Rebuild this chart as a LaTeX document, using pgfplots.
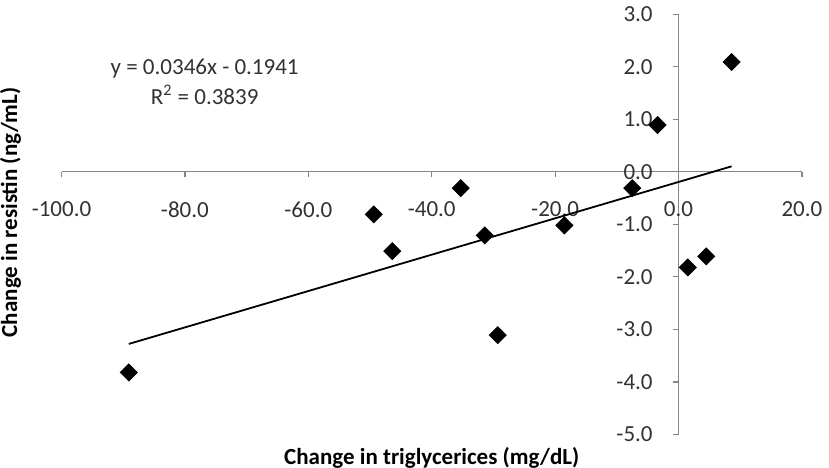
\documentclass[border=0pt]{standalone}
\usepackage{pgfplots}
\pgfplotsset{compat=1.18}
\usepackage{fontspec}
\setmainfont{Carlito}
\definecolor{axgray}{RGB}{134,134,134}
\definecolor{txt}{RGB}{50,50,50}
\begin{document}
\begin{tikzpicture}
\begin{axis}[
  scale only axis,
  width=370pt, height=210pt,
  xmin=-100, xmax=20, ymin=-5, ymax=3,
  axis lines=middle,
  axis line style={axgray, -, line width=0.6pt},
  xtick={-100,-80,...,20},
  ytick={-5,-4,...,3},
  minor tick num=0,
  hide obscured x ticks=false,
  hide obscured y ticks=false,
  x tick style={axgray, line width=0.6pt, yshift=-1.4pt},
  y tick style={axgray, line width=0.6pt, xshift=-1.4pt},
  major tick length=2.8pt,
  /pgf/number format/assume math mode=true,
  /pgf/number format/.cd, fixed, fixed zerofill, precision=1, /pgfplots/.cd,
  tick label style={font=\fontsize{11.5}{13}\selectfont, text=txt},
  xticklabel style={anchor=center, yshift=-17.5pt},
  yticklabel style={anchor=east, xshift=-8pt},
  every axis x label/.style={at={(rel axis cs:0.5,0)}, xshift=0pt, yshift=-11.5pt, anchor=center, inner sep=0pt},
  every axis y label/.style={at={(rel axis cs:0,0.5)}, xshift=-25.5pt, yshift=6pt, rotate=90, anchor=center, inner sep=0pt},
  xlabel={\bfseries\fontsize{11.5}{13}\selectfont Change in triglycerices (mg/dL)},
  ylabel={\bfseries\fontsize{11.5}{13}\selectfont Change in resistin (ng/mL)},
  clip=false,
]
\addplot[only marks, mark=square*, mark size=3.0pt, mark options={black, rotate=45}]
coordinates {
(-89.1,-3.82) (-49.4,-0.81) (-46.4,-1.51) (-35.3,-0.31) (-31.4,-1.21) (-29.3,-3.11)
(-18.5,-1.02) (-7.5,-0.31) (-3.4,0.89) (1.5,-1.82) (4.5,-1.61) (8.6,2.09)
};
\addplot[black, line width=0.9pt] coordinates {(-89.1,-3.277) (8.6,0.104)};
\node[align=center, font=\fontsize{11.5}{15}\selectfont, text=txt] at (axis cs:-76.8,1.71) {y = 0.0346x - 0.1941\\R\textsuperscript{2} = 0.3839};
\end{axis}
\end{tikzpicture}
\end{document}
